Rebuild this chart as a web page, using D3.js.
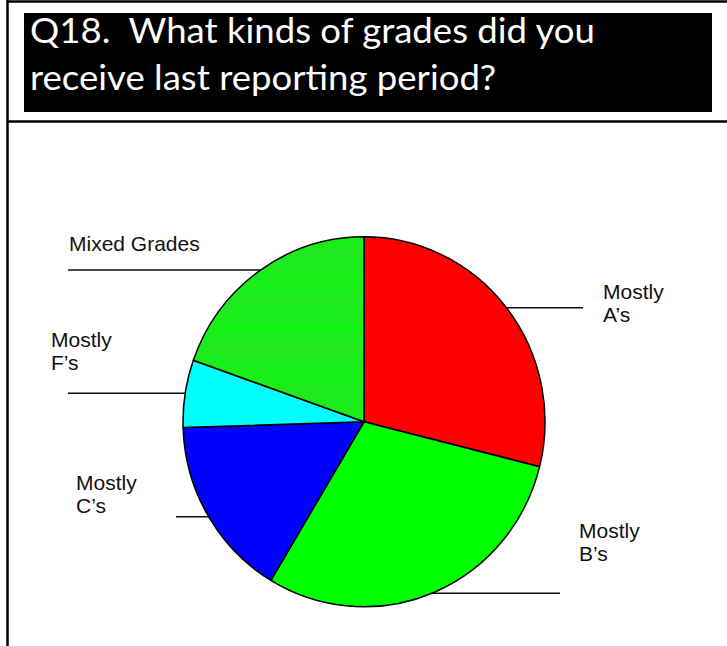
<!DOCTYPE html>
<html>
<head>
<meta charset="utf-8">
<script src="https://cdn.jsdelivr.net/npm/d3@7"></script>
<style>
  html, body { margin: 0; padding: 0; background: #fff; }
  svg { display: block; }
  .title { font-family: Lato, "Open Sans", sans-serif; fill: #fff; white-space: pre; }
  .lbl { font-family: "Liberation Sans", Arial, sans-serif; font-size: 21px; fill: #111; }
</style>
</head>
<body>
<svg id="chart" width="727" height="646"></svg>
<script>
// Survey question and answer shares (percent of respondents), clockwise from 12 o'clock
const titleLines = ["Q18.  What kinds of grades did you", "receive last reporting period?"];
const categories = ["Mostly A's", "Mostly B's", "Mostly C's", "Mostly F's", "Mixed Grades"];
const shares = [28.9, 29.7, 15.9, 5.9, 19.6];
const labelLines = [["Mostly", "A\u2019s"], ["Mostly", "B\u2019s"], ["Mostly", "C\u2019s"], ["Mostly", "F\u2019s"], ["Mixed Grades"]];

// Slide layout: label text anchor and leader line for each slice
const labelLayout = [
  { tx: 603, ty: 299, lx1: 364, lx2: 583, ly: 307.7 },
  { tx: 579, ty: 538, lx1: 364, lx2: 560, ly: 593.3 },
  { tx: 76,  ty: 490, lx1: 176, lx2: 364, ly: 516.7 },
  { tx: 51,  ty: 347, lx1: 68,  lx2: 364, ly: 393.3 },
  { tx: 69,  ty: 251, lx1: 68,  lx2: 364, ly: 270 }
];

const svg = d3.select("#chart");
const W = 727, H = 646;

// Dithered green fill for the mixed-grades slice
const defs = svg.append("defs");
const pat = defs.append("pattern").attr("id", "dither")
  .attr("width", 2).attr("height", 2).attr("patternUnits", "userSpaceOnUse");
pat.append("rect").attr("width", 2).attr("height", 2).attr("fill", "#00ff00");
pat.append("rect").attr("x", 0).attr("y", 0).attr("width", 1).attr("height", 1).attr("fill", "#34dc34");
pat.append("rect").attr("x", 1).attr("y", 1).attr("width", 1).attr("height", 1).attr("fill", "#34dc34");

const color = d3.scaleOrdinal()
  .domain(categories)
  .range(["#ff0000", "#00ff00", "#0000ff", "#00ffff", "url(#dither)"]);

// Slide frame
svg.append("line").attr("x1", 7).attr("x2", W).attr("y1", 1.5).attr("y2", 1.5)
  .attr("stroke", "#000").attr("stroke-width", 2.5);
svg.append("line").attr("x1", 7.5).attr("x2", 7.5).attr("y1", 0).attr("y2", H)
  .attr("stroke", "#000").attr("stroke-width", 2.5);
svg.append("line").attr("x1", 7).attr("x2", W).attr("y1", 121.5).attr("y2", 121.5)
  .attr("stroke", "#000").attr("stroke-width", 2.5);

// Title block
svg.append("rect").attr("x", 24).attr("y", 13).attr("width", 688).attr("height", 99).attr("fill", "#000");
const tg = svg.append("g");
const tTexts = tg.selectAll("text").data(titleLines).join("text")
  .attr("class", "title")
  .attr("x", 0)
  .attr("y", (d, i) => 43 + i * 47.5)
  .attr("font-size", 34)
  .text(d => d);
const firstLen = tTexts.nodes()[0].getComputedTextLength();
const sx = 565 / firstLen;
tg.attr("transform", `translate(30,0) scale(${sx},1)`);

// Leader lines (drawn beneath the pie)
const leaders = svg.append("g");
leaders.selectAll("line").data(labelLayout).join("line")
  .attr("x1", d => d.lx1).attr("x2", d => d.lx2)
  .attr("y1", d => d.ly).attr("y2", d => d.ly)
  .attr("stroke", "#111").attr("stroke-width", 1.4);

// Pie
const cx = 364, cy = 421.8, rx = 181, ry = 185;
const pie = d3.pie().sort(null).value(d => d);
const arc = d3.arc().innerRadius(0).outerRadius(rx);
const pg = svg.append("g").attr("transform", `translate(${cx},${cy}) scale(1,${ry / rx})`);
pg.selectAll("path").data(pie(shares)).join("path")
  .attr("d", arc)
  .attr("fill", (d, i) => color(categories[i]))
  .attr("stroke", "#000")
  .attr("stroke-width", 1.5)
  .attr("stroke-linejoin", "round")
  .attr("vector-effect", "non-scaling-stroke");

// Labels
const lg = svg.append("g");
labelLines.forEach((lines, i) => {
  const L = labelLayout[i];
  const t = lg.append("text").attr("class", "lbl").attr("x", L.tx).attr("y", L.ty);
  lines.forEach((s, j) => {
    t.append("tspan").attr("x", L.tx).attr("dy", j === 0 ? 0 : 23).text(s);
  });
});
</script>
</body>
</html>
